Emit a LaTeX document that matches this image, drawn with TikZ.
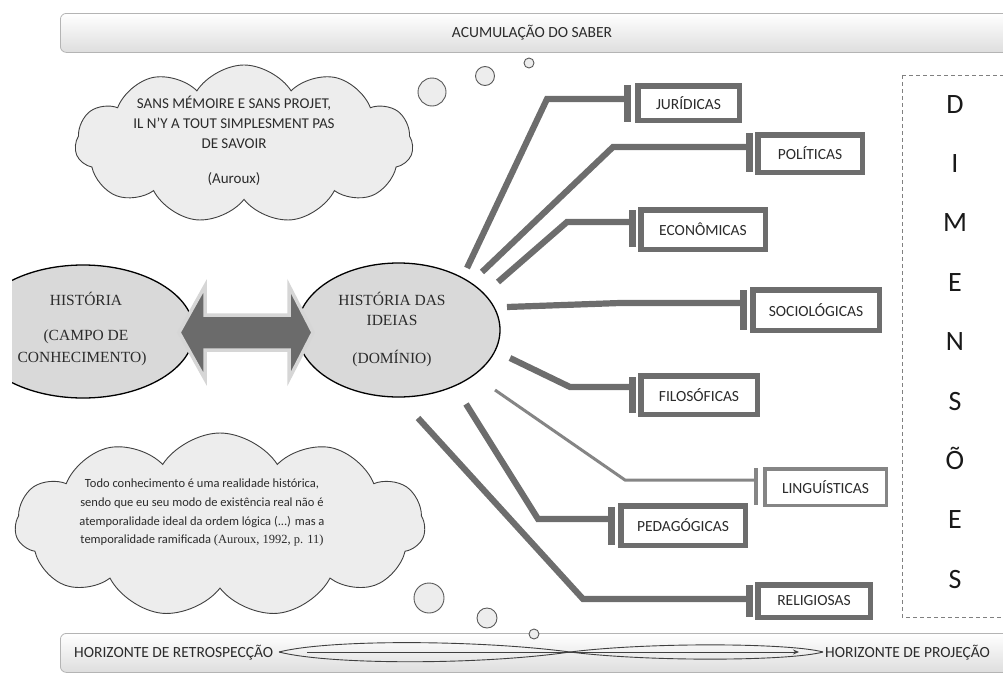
\documentclass[tikz,border=0pt]{standalone}
\usepackage{fontspec}
\setmainfont{Carlito}
\newfontfamily\tnr{Liberation Serif}
\usetikzlibrary{shapes.symbols,shapes.geometric,arrows.meta}
\definecolor{branch}{HTML}{6D6D6D}
\definecolor{linbranch}{HTML}{858585}
\definecolor{ellfill}{HTML}{D9D9D9}
\definecolor{cloudfill}{HTML}{EDEDED}
\definecolor{txt}{HTML}{2B2B2B}
\definecolor{barline}{HTML}{B4B4B4}
\begin{document}
\begin{tikzpicture}[x=1pt,y=-1pt,
  hbar/.style={rectangle, rounded corners=6pt, draw=barline, line width=0.8pt,
    top color=white, bottom color=black!13, inner sep=0pt, anchor=north west},
  bartext/.style={font=\fontsize{15.5}{18}\selectfont, text=txt, anchor=base, inner sep=0pt},
  thought/.style={cloud, cloud puffs=11, cloud puff arc=115, cloud ignores aspect,
    draw=black!75, line width=0.9pt, fill=cloudfill, inner sep=0pt},
  bubble/.style={circle, draw=black!65, line width=0.9pt, fill=cloudfill, inner sep=0pt},
  field/.style={ellipse, draw=black, line width=1.3pt, fill=ellfill, inner sep=0pt},
  serift/.style={font=\tnr\fontsize{15.5}{18}\selectfont, text=txt, anchor=base, inner sep=0pt},
  cloudt/.style={font=\fontsize{15}{18}\selectfont, text=txt, anchor=base, inner sep=0pt},
  smallt/.style={font=\fontsize{12.5}{15}\selectfont, text=txt, anchor=base, inner sep=0pt},
  branchline/.style={draw=branch, line width=6.2pt, line join=miter},
  tbar/.style={rectangle, fill=branch, minimum width=7pt, inner sep=0pt},
  dimbox/.style={rectangle, draw=branch, line width=5.5pt, fill=white, inner sep=0pt,
    font=\fontsize{15.5}{18}\selectfont, text=txt},
  letter/.style={font=\fontsize{28}{30}\selectfont, text=black!90, anchor=base, inner sep=0pt}
]
\useasboundingbox (0,0) rectangle (1003,672);
\clip (0,0) rectangle (1003,672);

% top bar
\node[hbar, minimum width=960pt, minimum height=39pt] (topbar) at (60,13) {};
\node[bartext] (toptext) at (532,37) {ACUMULAÇÃO DO SABER};

% bottom bar
\node[hbar, minimum width=960pt, minimum height=39pt] (botbar) at (60,633) {};
\node[bartext, anchor=base west] (retro) at (74,657) {HORIZONTE DE RETROSPECÇÃO};
\node[bartext, anchor=base west] (proj) at (825,657) {HORIZONTE DE PROJEÇÃO};
\coordinate (lL) at (279,652);
\coordinate (lX) at (570,652);
\coordinate (lR) at (823,652);
\coordinate (aS) at (307,652);
\coordinate (aE) at (799,652);
\draw[black!75, line width=0.9pt] (lL) .. controls (330,639) and (480,640) .. (lX)
  .. controls (650,662) and (790,661) .. (lR);
\draw[black!75, line width=0.9pt] (lL) .. controls (330,665) and (480,665) .. (lX)
  .. controls (650,642) and (790,643) .. (lR);
\draw[black!75, line width=0.9pt, -{Stealth[length=6pt,width=5pt]}] (aS) -- (aE);

% clouds
\node[thought, minimum width=338pt, minimum height=158pt] (c1) at (244,144) {};
\node[cloudt] (c1a) at (234,108) {SANS MÉMOIRE E SANS PROJET,};
\node[cloudt] (c1b) at (234,128) {IL N’Y A TOUT SIMPLESMENT PAS};
\node[cloudt] (c1c) at (234,148) {DE SAVOIR};
\node[cloudt] (c1d) at (234,183) {(Auroux)};

\node[thought, minimum width=410pt, minimum height=184pt] (c2) at (220,525) {};
\node[smallt] (c2a) at (202,487) {Todo conhecimento é uma realidade histórica,};
\node[smallt] (c2b) at (202,506) {sendo que eu seu modo de existência real não é};
\node[smallt] (c2c) at (202,525) {atemporalidade ideal da ordem lógica (...) mas a};
\node[smallt] (c2d) at (202,543) {temporalidade ramificada {\tnr(Auroux, 1992, p. 11)}};

% bubbles
\node[bubble, minimum size=28pt] (b1) at (432,92) {};
\node[bubble, minimum size=19pt] (b2) at (485,76) {};
\node[bubble, minimum size=10pt] (b3) at (529,63) {};
\node[bubble, minimum size=30pt] (b4) at (429,598) {};
\node[bubble, minimum size=20pt] (b5) at (487,618) {};
\node[bubble, minimum size=10pt] (b6) at (534,634) {};

% ellipses
\begin{scope}
\clip (12,0) rectangle (300,672);
\node[field, minimum width=222pt, minimum height=133pt] (hist) at (83,331.5) {};
\end{scope}
\node[serift] (h1) at (86,305) {HISTÓRIA};
\node[serift] (h2) at (86,340) {(CAMPO DE};
\node[serift] (h3) at (82,362) {CONHECIMENTO)};

\node[field, minimum width=203pt, minimum height=134pt] (hid) at (398.5,330) {};
\node[serift] (d1) at (392,305) {HISTÓRIA DAS};
\node[serift] (d2) at (392,325) {IDEIAS};
\node[serift] (d3) at (392,363) {(DOMÍNIO)};

% double arrow
\draw[draw=black!16, line width=3.5pt, fill=black!58, line join=miter]
  (179,332.5) -- (205,286) -- (205,315) -- (289,315) -- (289,286) -- (313,332.5)
  -- (289,379) -- (289,350) -- (205,350) -- (205,379) -- cycle;

% dimension boxes
\node[dimbox, minimum width=101.5pt, minimum height=34.5pt] (jur) at (688.5,103) {JURÍDICAS};
\node[dimbox, minimum width=104.5pt, minimum height=37.5pt] (pol) at (810,153.5) {POLÍTICAS};
\node[dimbox, minimum width=124.5pt, minimum height=39.5pt] (eco) at (703,229.5) {ECONÔMICAS};
\node[dimbox, minimum width=126.5pt, minimum height=40.5pt] (soc) at (816,310) {SOCIOLÓGICAS};
\node[dimbox, minimum width=116.5pt, minimum height=38.5pt] (fil) at (699,395) {FILOSÓFICAS};
\node[dimbox, draw=linbranch, line width=3.5pt, minimum width=121.5pt, minimum height=36.5pt] (lin) at (825.5,487) {LINGUÍSTICAS};
\node[dimbox, minimum width=124.5pt, minimum height=39.5pt] (ped) at (683,525.5) {PEDAGÓGICAS};
\node[dimbox, minimum width=112.5pt, minimum height=32.5pt] (rel) at (814,601) {RELIGIOSAS};

% bars
\node[tbar, minimum height=37pt] (t1) at (627,103.5) {};
\node[tbar, minimum height=39pt] (t2) at (749,152.5) {};
\node[tbar, minimum height=37pt] (t3) at (632,228.5) {};
\node[tbar, minimum height=40pt] (t4) at (743,310) {};
\node[tbar, minimum height=36pt] (t5) at (632,395) {};
\node[tbar, fill=linbranch, minimum width=4pt, minimum height=37pt] (t6) at (756,486.5) {};
\node[tbar, minimum height=38pt] (t7) at (611,526) {};
\node[tbar, minimum height=32pt] (t8) at (749,601) {};

% branch points
\coordinate (s1) at (467,268); \coordinate (k1) at (547,99);
\coordinate (s2) at (482,272); \coordinate (k2) at (613,147);
\coordinate (s3) at (498,282); \coordinate (k3) at (567,222);
\coordinate (s4) at (507,307); \coordinate (k4) at (620,303);
\coordinate (s5) at (510,358); \coordinate (k5) at (570,387);
\coordinate (s6) at (495,390); \coordinate (k6) at (625,480);
\coordinate (s7) at (466,404); \coordinate (k7) at (538,519);
\coordinate (s8) at (418,418); \coordinate (k8) at (583,599);

\draw[branchline] (s1) -- (k1) -- (k1 -| t1.center);
\draw[branchline] (s2) -- (k2) -- (k2 -| t2.center);
\draw[branchline] (s3) -- (k3) -- (k3 -| t3.center);
\draw[branchline] (s4) -- (k4) -- (k4 -| t4.center);
\draw[branchline] (s5) -- (k5) -- (k5 -| t5.center);
\draw[branchline, draw=linbranch, line width=3pt] (s6) -- (k6) -- (k6 -| t6.center);
\draw[branchline] (s7) -- (k7) -- (k7 -| t7.center);
\draw[branchline] (s8) -- (k8) -- (k8 -| t8.center);

% dimensoes
\draw[black!50, line width=0.9pt, dash pattern=on 4pt off 3pt] (902,75) -- (1010,75)
  (902,75) -- (902,617) -- (1010,617);
\foreach \L [count=\i from 0] in {D,I,M,E,N,S,Õ,E,S}{
  \node[letter] (dim\i) at (955,{113+59.4*\i}) {\L};
}
\end{tikzpicture}
\end{document}
